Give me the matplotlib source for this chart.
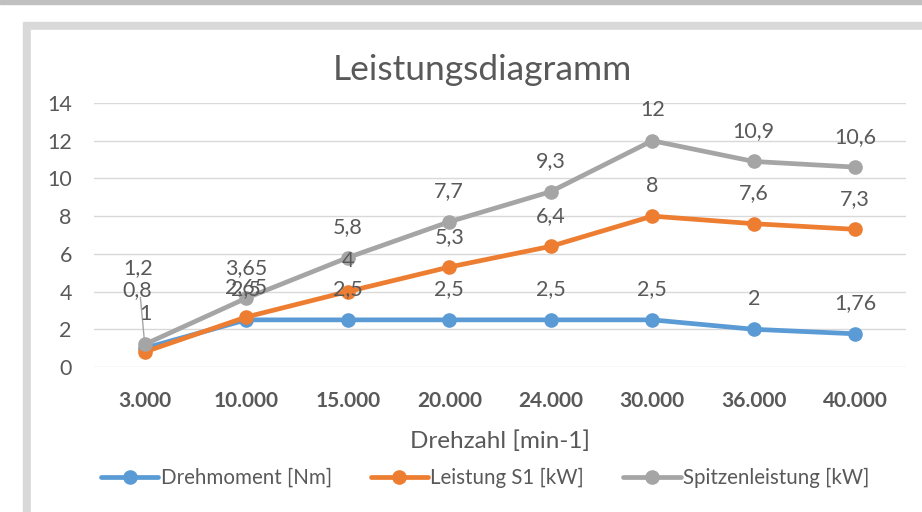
import matplotlib
matplotlib.use('Agg')
import matplotlib.pyplot as plt
from matplotlib.patches import Rectangle

# data
drehzahl = ['3.000', '10.000', '15.000', '20.000', '24.000', '30.000', '36.000', '40.000']
drehmoment = [1, 2.5, 2.5, 2.5, 2.5, 2.5, 2, 1.76]
leistung_s1 = [0.8, 2.65, 4, 5.3, 6.4, 8, 7.6, 7.3]
spitzenleistung = [1.2, 3.65, 5.8, 7.7, 9.3, 12, 10.9, 10.6]
yticks = [0, 2, 4, 6, 8, 10, 12, 14]

plt.rcParams['font.family'] = ['Lato', 'DejaVu Sans']
txt = '#595959'
fs = 15.5

fig = plt.figure(figsize=(9.22, 5.12), dpi=100)
W, H = 922, 512

# screenshot frame
fig.patches.append(Rectangle((0, 1 - 4 / H), 1, 4 / H, transform=fig.transFigure,
                             color='#c0c0c0', zorder=-3))
fig.patches.append(Rectangle((23 / W, 0), 1, 1 - 22 / H, transform=fig.transFigure,
                             color='#d9d9d9', zorder=-2))
fig.patches.append(Rectangle((31 / W, 0), 1, 1 - 30 / H, transform=fig.transFigure,
                             color='white', zorder=-1))

ax = fig.add_axes([94 / W, 1 - 367 / H, (906 - 94) / W, (367 - 103) / H])
ax.set_facecolor('none')
x = list(range(len(drehzahl)))

series = [('Drehmoment [Nm]', drehmoment, '#5B9BD5'),
          ('Leistung S1 [kW]', leistung_s1, '#ED7D31'),
          ('Spitzenleistung [kW]', spitzenleistung, '#A5A5A5')]

for name, vals, col in series:
    ax.plot(x, vals, color=col, lw=3.4, marker='o', ms=9.5, label=name,
            solid_capstyle='round', zorder=3)

def fmt(v):
    return ('%g' % v).replace('.', ',')

for name, vals, col in series:
    for i, v in enumerate(vals):
        if i == 0:
            continue
        ax.annotate(fmt(v), (i, v), xytext=(0, 17.5), textcoords='offset points',
                    ha='center', va='baseline', fontsize=fs, color=txt, zorder=5)

# moved labels at 3.000
ax.annotate('1,2', (0, spitzenleistung[0]), xytext=(-0.07, 5.25), textcoords='data',
            ha='center', va='center', fontsize=fs, color=txt,
            arrowprops=dict(arrowstyle='-', color='#a5a5a5', lw=1,
                            shrinkA=12, shrinkB=0))
ax.text(-0.07, 4.08, fmt(leistung_s1[0]), ha='center', va='center', fontsize=fs, color=txt)
ax.text(0.01, 2.81, fmt(drehmoment[0]), ha='center', va='center', fontsize=fs, color=txt)

ax.set_xlim(-0.5, len(drehzahl) - 0.5)
ax.set_ylim(0, 14)
ax.set_yticks(yticks)
ax.set_xticks(x)
ax.set_xticklabels(drehzahl, fontweight='bold')
ax.yaxis.grid(True, color='#d9d9d9', lw=1)
ax.set_axisbelow(True)
for s in ax.spines.values():
    s.set_visible(False)
ax.tick_params(axis='y', length=0, pad=16, labelsize=fs, labelcolor=txt)
ax.tick_params(axis='x', length=0, pad=17, labelsize=15, labelcolor=txt)

ax.set_xlabel('Drehzahl [min-1]', fontsize=17.5, color=txt, labelpad=14)
fig.text(482 / W, 1 - 70 / H, 'Leistungsdiagramm', fontsize=25.5, color=txt,
         ha='center', va='center')

leg = fig.legend(loc='center', bbox_to_anchor=(485 / W, 1 - 478 / H), ncol=3,
                 frameon=False, fontsize=14.8, handlelength=2.8, columnspacing=1.9,
                 handletextpad=0.1, labelcolor=txt)

fig.savefig('out.png', dpi=100)
